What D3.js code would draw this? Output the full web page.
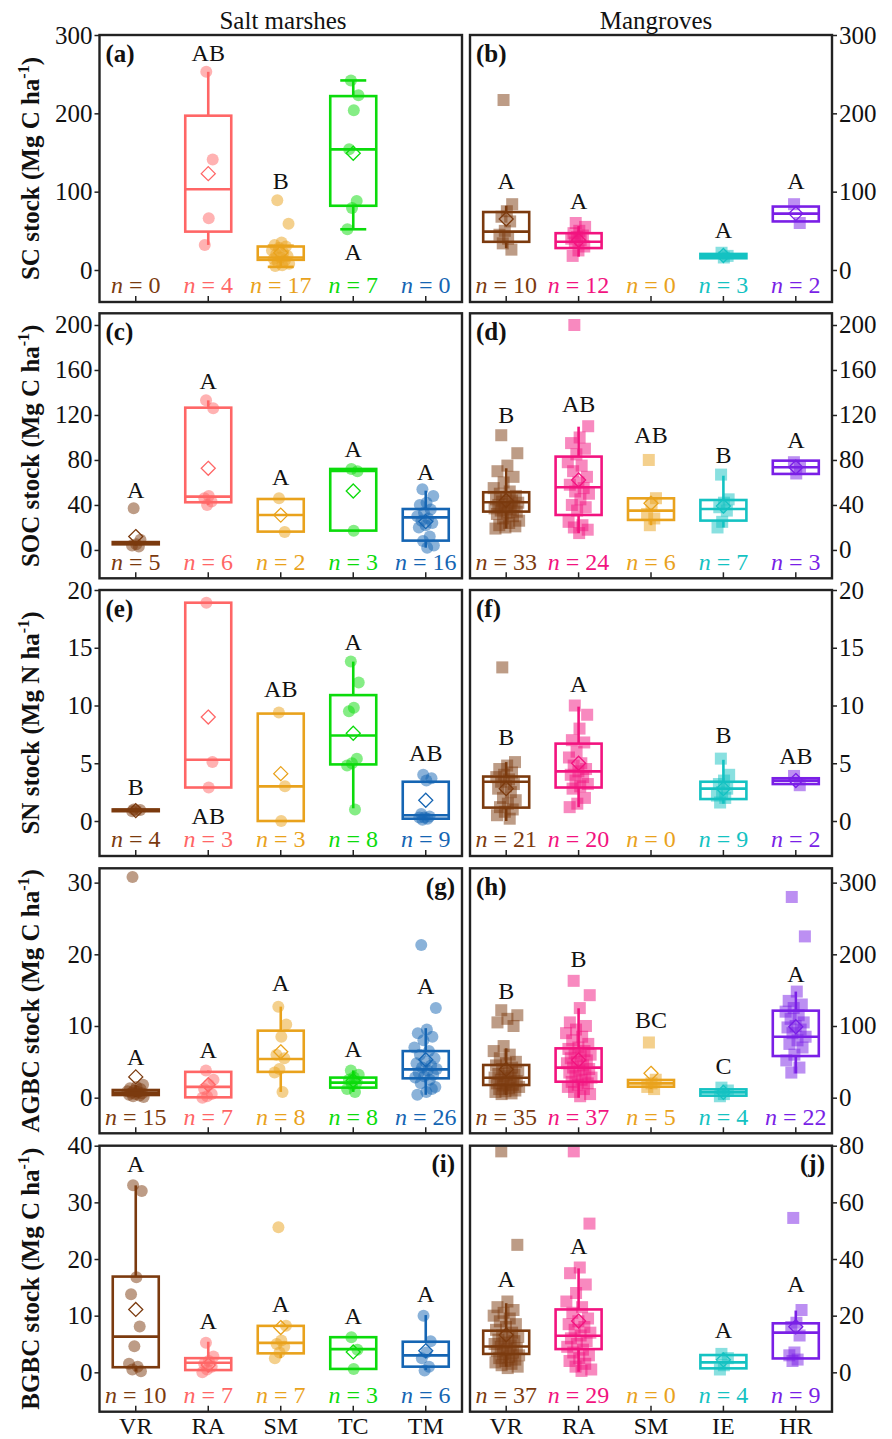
<!DOCTYPE html>
<html><head><meta charset="utf-8">
<script src="https://cdn.jsdelivr.net/npm/d3@7"></script>
<style>
body{margin:0;background:#fff}
svg{display:block}
text{font-family:"Liberation Serif","Times New Roman",serif;fill:#111}
</style>
</head><body>
<svg id="chart" width="892" height="1439"></svg>
<script>
// ---------- categories & colours ----------
const groupsSalt = ["VR","RA","SM","TC","TM"];
const groupsMang = ["VR","RA","SM","IE","HR"];
const colorsSalt = ["#7B3A0E","#FF6666","#E9A21C","#0BDB0B","#1565B3"];
const colorsMang = ["#7B3A0E","#F2137F","#E9A21C","#14C2C2","#7A1FE6"];
const columnTitles = ["Salt marshes","Mangroves"];
const yTitles = ["SC stock (Mg C ha","SOC stock (Mg C ha","SN stock (Mg N ha","AGBC stock (Mg C ha","BGBC stock (Mg C ha"];

// ---------- tick values ----------
const ticksA = [0,100,200,300], ticksB = [0,100,200,300];
const ticksC = [0,40,80,120,160,200], ticksD = [0,40,80,120,160,200];
const ticksE = [0,5,10,15,20], ticksF = [0,5,10,15,20];
const ticksG = [0,10,20,30], ticksH = [0,100,200,300];
const ticksI = [0,10,20,30,40], ticksJ = [0,20,40,60,80];

// ---------- axis ranges ----------
const domA = [-40.85,300], domB = [-40.85,300];
const domC = [-25.2,210.4], domD = [-25.2,210.4];
const domE = [-3.03,20], domF = [-3.03,20];
const domG = [-4.97,32], domH = [-49.7,320];
const domI = [-6.95,40], domJ = [-13.9,80];

// ---------- data: sample sizes ----------
const nA = [0,4,17,7,0],   nB = [10,12,0,3,2];
const nC = [5,6,2,3,16],   nD = [33,24,6,7,3];
const nE = [4,3,3,8,9],    nF = [21,20,0,9,2];
const nG = [15,7,8,8,26],  nH = [35,37,5,4,22];
const nI = [10,7,7,3,6],   nJ = [37,29,0,4,9];

// ---------- data: individual observations ----------
const ptsA = [[],[253,141,66,32],[89,59,35,32,30,28,25,22,20,18,16,14,12,10,8,6,5],[242,223,204,154,88,79,52],[]];
const ptsB = [[217,84,75,68,62,50,45,40,34,26],[60,55,50,47,44,42,40,38,35,30,25,18],[],[22,18,16],[84,60]];
const ptsC = [[37,9,5,4,3],[133,126,48,46,43,40],[46,16],[72,70,17],[54,48,42,40,36,33,30,28,26,24,22,20,12,8,4,2]];
const ptsD = [[102,86,75,70,65,60,55,52,50,48,47,45,44,43,42,41,40,39,38,37,36,35,34,33,32,30,28,26,24,22,21,20,19],
  [200,110,100,95,90,85,78,75,70,65,60,58,55,52,50,45,40,38,35,25,22,20,18,15],
  [80,46,40,32,28,22],[67,45,42,38,35,25,20],[78,74,68]];
const ptsE = [[1.0,0.95,0.9,0.85],[18.9,5.1,2.9],[9.4,3.0,0],[13.8,12.0,9.8,9.5,5.4,5.0,4.8,1.0],[4.0,3.7,3.5,0.6,0.4,0.3,0.3,0.2,0.1]];
const ptsF = [[13.3,5.1,4.8,4.5,4.2,4.0,3.8,3.6,3.4,3.2,3.0,2.8,2.5,2.0,1.8,1.5,1.2,1.0,0.8,0.5,0.2],
  [10,9.2,8.0,7.0,6.8,6.0,5.5,5.0,4.8,4.5,4.3,4.0,3.8,3.5,3.2,3.0,2.8,2.0,1.5,1.2],
  [],[5.4,4.0,3.5,3.2,2.8,2.5,2.2,2.0,1.6],[3.9,3.1]];
const ptsG = [[30.8,1.8,1.5,1.3,1.2,1.0,0.9,0.8,0.7,0.6,0.5,0.4,0.3,0.2,0.1],[3.8,2.5,1.8,1.2,0.5,0.2,0.0],
  [12.7,10.2,8.5,6.0,5.5,4.0,3.5,0.8],[3.8,3.2,2.8,2.5,2.2,1.8,1.2,0.8],
  [21.3,12.5,9.5,9.0,8.5,8.0,7.0,6.5,6.0,5.5,5.0,4.8,4.5,4.2,4.0,3.8,3.5,3.2,3.0,2.8,2.5,2.0,1.5,0.8,0.4,1.2]];
const ptsH = [[122,115,110,105,100,72,65,60,55,50,48,45,42,40,38,35,33,32,30,28,27,25,23,22,20,18,17,15,13,12,10,9,8,6,5],
  [163,143,125,105,100,95,90,85,80,75,70,68,65,62,60,58,55,52,50,48,45,42,40,38,35,33,30,28,25,22,20,18,15,12,8,5,2],
  [77,25,20,15,12],[14,10,5,2],
  [280,225,148,135,130,125,120,115,110,105,100,98,95,90,85,80,75,70,60,52,42,35]];
const ptsI = [[33,32,16.8,13.8,8.1,4.6,1.5,1.0,0.5,0.2],[5.2,2.8,2.0,1.5,1.0,0.5,0.0],[25.6,8.2,5.6,5.0,4.5,3.5,2.5],[6.2,4.0,0.6],[10,5.5,3.5,2.5,1.0,0.3]];
const ptsJ = [[78,45,25,23,22,21,20,19,18,17,16,15,14,13,12.5,12,11.5,11,10.5,10,9.5,9,8.5,8,7.5,7,6.5,6,5.5,5,4.5,4,3.5,3,2.5,2,1.5],
  [78,52.5,37,35,31,28,25,23,21,19,18,17,16,15,14,13,12,11,10,9,8,7,6,5,4,3,2,1,0.5],
  [],[6.5,5.0,2.5,1.0],[54.5,22,17.5,16,13,7,6,4.5,4]];

// ---------- data: box statistics [whiskerLow, Q1, median, Q3, whiskerHigh, mean] ----------
const boxA = [null,[32,49,103,197,253,123],[4,13,16,30,31,22],[52,82,154,222,242,149],null];
const boxB = [[28,36,49,74,82,65],[17,28,36,47,56,38],null,[15,15,18,20.5,20.5,18.5],[62,62,72,81,81,72]];
const boxC = [[4,5,6,7,8,11.9],[40,42.4,47.4,126.5,133,72.6],[16.3,16.3,31.1,45.3,45.3,31],[17.2,17.2,70.2,72,72,52.4],[2,8.3,29,36.4,52.7,25.2]];
const boxD = [[19,34.1,42.4,51.3,72.6,44],[15,31.1,55.7,83,109.6,62.2],[22,26.7,35,45.9,45.9,41.5],[20,26.1,36.4,44.4,66,39],[67.6,67.6,73.5,79.4,79.4,73.5]];
const boxE = [[0.85,0.85,0.95,1.0,1.0,0.9],[2.9,2.9,5.3,18.9,18.9,9.0],[0,0,3.0,9.3,9.3,4.1],[1.1,4.9,7.4,10.9,13.8,7.6],[0.2,0.2,0.5,3.4,3.4,1.8]];
const boxF = [[0,1.16,3.4,3.85,5.1,2.8],[1.2,2.9,4.3,6.7,9.9,5.0],null,[1.5,1.9,2.8,3.4,5.3,2.8],[3.2,3.2,3.5,3.7,3.7,3.5]];
const boxG = [[0.1,0.37,0.7,1.07,1.8,2.9],[0,0.05,1.5,3.6,3.8,1.8],[0.8,3.6,5.4,9.35,12.7,6.4],[0.8,1.4,2.1,2.8,3.8,2.4],[0.4,2.7,3.95,6.5,9.7,5.3]];
const boxH = [[3.7,17.7,27.9,45.6,68.8,39.5],[0,22.3,41.9,68.8,124.7,52.6],[12,15.3,20,24.7,25,34],[2.8,2.8,7.4,11.6,11.6,7.4],[34,58.1,85.1,121.4,148,99]];
const boxI = [[0.2,0.9,6.3,16.9,33,11.1],[0,0.4,1.7,2.5,5.4,1.3],[2.5,3.35,5.2,8.2,8.2,7.9],[0.6,0.6,4.1,6.2,6.2,3.6],[0.4,1.0,3.0,5.4,10.1,3.8]];
const boxJ = [[2,6.5,9.1,14.7,24.4,13.2],[0.2,8.2,12.9,22.2,36.7,18.1],null,[1.4,1.4,3.5,6.1,6.1,4.4],[4.9,4.9,14,17.3,21.8,16.1]];
// whisker caps visible only in panel (a) SM and TC
const capsA = [false,false,true,true,false];

// ---------- data: significance letters [label, value at label centre] ----------
const letA = [null,["AB",277],["B",114],["A",23.6],null];
const letB = [["A",114],["A",88],null,["A",51.5],["A",114]];
const letC = [["A",53.3],["A",151],["A",65.2],["A",90.4],["A",69.6]];
const letD = [["B",120],["AB",130.4],["AB",102.2],["B",84.4],["A",97.8]];
const letE = [["B",3.0],["AB",0.5],["AB",11.5],["A",15.5],["AB",5.9]];
const letF = [["B",7.3],["A",11.9],null,["B",7.5],["AB",5.7]];
const letG = [["A",5.7],["A",6.7],["A",16],["A",6.9],["A",15.7]];
const letH = [["B",150],["B",194.4],["BC",108.4],["C",44.7],["A",173.5]];
const letI = [["A",36.9],["A",9.1],["A",12.2],["A",10.1],["A",13.9]];
const letJ = [["A",33.2],["A",44.9],null,["A",15.2],["A",31.4]];

// ---------- panel assembly ----------
const panels = [
  {id:"a",row:0,col:0,dom:domA,ticks:ticksA,n:nA,pts:ptsA,box:boxA,let:letA,caps:capsA,labRight:false},
  {id:"b",row:0,col:1,dom:domB,ticks:ticksB,n:nB,pts:ptsB,box:boxB,let:letB,labRight:false},
  {id:"c",row:1,col:0,dom:domC,ticks:ticksC,n:nC,pts:ptsC,box:boxC,let:letC,labRight:false},
  {id:"d",row:1,col:1,dom:domD,ticks:ticksD,n:nD,pts:ptsD,box:boxD,let:letD,labRight:false},
  {id:"e",row:2,col:0,dom:domE,ticks:ticksE,n:nE,pts:ptsE,box:boxE,let:letE,labRight:false},
  {id:"f",row:2,col:1,dom:domF,ticks:ticksF,n:nF,pts:ptsF,box:boxF,let:letF,labRight:false},
  {id:"g",row:3,col:0,dom:domG,ticks:ticksG,n:nG,pts:ptsG,box:boxG,let:letG,labRight:true},
  {id:"h",row:3,col:1,dom:domH,ticks:ticksH,n:nH,pts:ptsH,box:boxH,let:letH,labRight:false},
  {id:"i",row:4,col:0,dom:domI,ticks:ticksI,n:nI,pts:ptsI,box:boxI,let:letI,labRight:true},
  {id:"j",row:4,col:1,dom:domJ,ticks:ticksJ,n:nJ,pts:ptsJ,box:boxJ,let:letJ,labRight:true}
];

// ---------- layout ----------
const colX = [[99.5,462],[470,832]];
const rowY = [[35,302],[313.3,578.3],[590,856],[868.3,1133.3],[1145.7,1411.7]];
const FS = 25;

const svg = d3.select("#chart");

// column titles
columnTitles.forEach((t,i)=>{
  svg.append("text").attr("x", i===0?283:656).attr("y",20).attr("dy","0.35em")
    .attr("text-anchor","middle").attr("font-size",FS).text(t);
});

// y titles
yTitles.forEach((t,i)=>{
  const cy = (rowY[i][0]+rowY[i][1])/2;
  const tx = svg.append("text").attr("transform",`translate(30,${cy}) rotate(-90)`)
    .attr("text-anchor","middle").attr("dy","0.35em").attr("font-size",FS).attr("font-weight","bold");
  tx.append("tspan").text(t);
  tx.append("tspan").attr("font-size",16).attr("dy",-10).text("-1");
  tx.append("tspan").attr("dy",10).text(")");
});

function jitter(i,n){
  const maxJ = Math.min(13, 4 + n*0.3);
  const f = ((i*0.618034 + 0.31) % 1) - 0.5;
  return f*2*maxJ;
}

panels.forEach(p=>{
  const [x0,x1] = colX[p.col], [yTop,yBot] = rowY[p.row];
  const groups = p.col===0?groupsSalt:groupsMang;
  const colors = p.col===0?colorsSalt:colorsMang;
  const x = d3.scaleBand().domain(groups).range([x0,x1]);
  const y = d3.scaleLinear().domain(p.dom).range([yBot,yTop]);
  const g = svg.append("g");
  const bw = 46;

  // y axis
  const yAxis = p.col===0 ? d3.axisLeft(y) : d3.axisRight(y);
  const ya = g.append("g").attr("transform",`translate(${p.col===0?x0:x1},0)`)
    .call(yAxis.tickValues(p.ticks).tickSize(5).tickPadding(2).tickFormat(d3.format("d")));
  ya.select(".domain").remove();
  ya.selectAll("line").attr("stroke","#222").attr("stroke-width",1.5);
  ya.selectAll("text").attr("font-size",FS).attr("font-family",null).attr("fill","#111");

  // x axis (inward ticks)
  const xa = g.append("g").attr("transform",`translate(0,${yBot})`)
    .call(d3.axisBottom(x).tickSize(-6).tickFormat(p.row===4?(d=>d):(()=>"")));
  xa.select(".domain").remove();
  xa.selectAll("line").attr("stroke","#222").attr("stroke-width",1.5);
  xa.selectAll("text").attr("font-size",24).attr("font-family",null).attr("fill","#111")
    .attr("y",13.5).attr("dy","0.35em");

  groups.forEach((gr,k)=>{
    const cx = x(gr) + x.bandwidth()/2;
    const col = colors[k];
    // points
    const pts = p.pts[k];
    pts.forEach((v,i)=>{
      const px = cx + jitter(i,pts.length);
      if(p.col===0){
        g.append("circle").attr("cx",px).attr("cy",y(v)).attr("r",6)
          .attr("fill",col).attr("fill-opacity",0.5);
      } else {
        g.append("rect").attr("x",px-6).attr("y",y(v)-6).attr("width",12).attr("height",12)
          .attr("fill",col).attr("fill-opacity",0.5);
      }
    });
    // box
    const b = p.box[k];
    if(b){
      const [lo,q1,md,q3,hi,mn] = b;
      const sw = 2.6;
      if(hi>q3) g.append("line").attr("x1",cx).attr("x2",cx).attr("y1",y(q3)).attr("y2",y(hi)).attr("stroke",col).attr("stroke-width",sw);
      if(lo<q1) g.append("line").attr("x1",cx).attr("x2",cx).attr("y1",y(q1)).attr("y2",y(lo)).attr("stroke",col).attr("stroke-width",sw);
      if(p.caps && p.caps[k]){
        [lo,hi].forEach(v=>g.append("line").attr("x1",cx-13).attr("x2",cx+13).attr("y1",y(v)).attr("y2",y(v)).attr("stroke",col).attr("stroke-width",sw));
      }
      g.append("rect").attr("x",cx-bw/2).attr("y",y(q3)).attr("width",bw).attr("height",Math.max(0.5,y(q1)-y(q3)))
        .attr("fill","none").attr("stroke",col).attr("stroke-width",sw);
      g.append("line").attr("x1",cx-bw/2).attr("x2",cx+bw/2).attr("y1",y(md)).attr("y2",y(md)).attr("stroke",col).attr("stroke-width",sw);
      // mean diamond
      const my = y(mn), r = 7;
      g.append("path").attr("d",`M${cx},${my-r}L${cx+r},${my}L${cx},${my+r}L${cx-r},${my}Z`)
        .attr("fill","none").attr("stroke",col).attr("stroke-width",1.3);
    }
    // letters
    const L = p.let[k];
    if(L){
      g.append("text").attr("x",cx).attr("y",y(L[1])).attr("dy","0.35em").attr("text-anchor","middle")
        .attr("font-size",24).text(L[0]);
    }
    // n labels
    const nt = g.append("text").attr("x",cx).attr("y",yBot-17).attr("dy","0.35em").attr("text-anchor","middle")
      .attr("font-size",24).style("fill",col);
    nt.append("tspan").attr("font-style","italic").style("fill",col).text("n");
    nt.append("tspan").style("fill",col).text(" = " + p.n[k]);
  });

  // frame
  g.append("rect").attr("x",x0).attr("y",yTop).attr("width",x1-x0).attr("height",yBot-yTop)
    .attr("fill","none").attr("stroke","#222").attr("stroke-width",2.4);

  // panel label
  g.append("text").attr("x",p.labRight?x1-7:x0+6).attr("y",yTop+18).attr("dy","0.35em")
    .attr("text-anchor",p.labRight?"end":"start").attr("font-size",FS).attr("font-weight","bold")
    .text(`(${p.id})`);
});
</script>
</body></html>
